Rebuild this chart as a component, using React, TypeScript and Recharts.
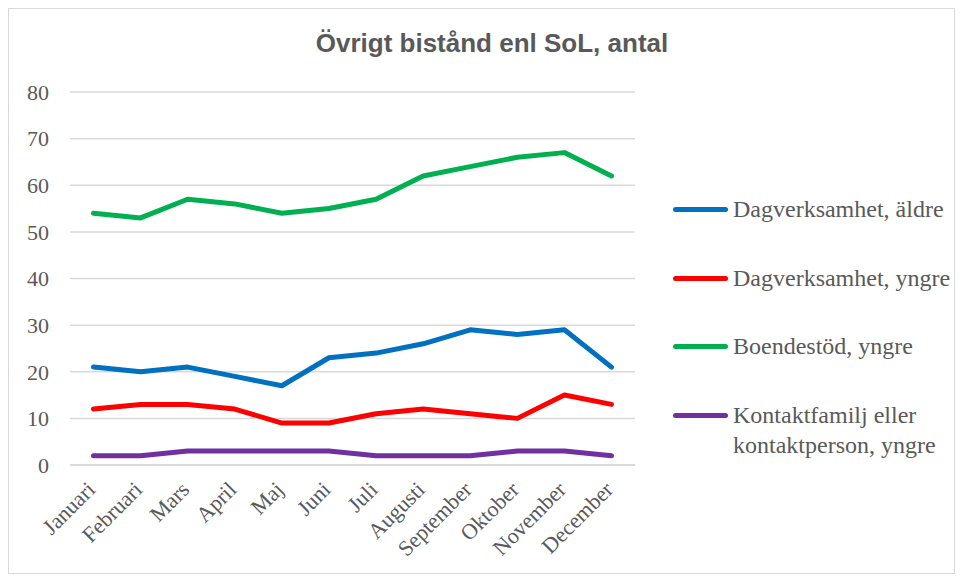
import React from "react";
import { CartesianGrid, Line, LineChart, XAxis, YAxis } from "recharts";

const MONTHS = [
  "Januari", "Februari", "Mars", "April", "Maj", "Juni",
  "Juli", "Augusti", "September", "Oktober", "November", "December",
];
const DAG_ALDRE = [21, 20, 21, 19, 17, 23, 24, 26, 29, 28, 29, 21];
const DAG_YNGRE = [12, 13, 13, 12, 9, 9, 11, 12, 11, 10, 15, 13];
const BOENDE_YNGRE = [54, 53, 57, 56, 54, 55, 57, 62, 64, 66, 67, 62];
const KONTAKT_YNGRE = [2, 2, 3, 3, 3, 3, 2, 2, 2, 3, 3, 2];
const Y_TICKS = [0, 10, 20, 30, 40, 50, 60, 70, 80];

const SERIES = [
  { key: "dagAldre", name: "Dagverksamhet, äldre", color: "#0070C0" },
  { key: "dagYngre", name: "Dagverksamhet, yngre", color: "#FF0000" },
  { key: "boende", name: "Boendestöd, yngre", color: "#00B050" },
  { key: "kontakt", name: "Kontaktfamilj eller\nkontaktperson, yngre", color: "#7030A0" },
];

const TEXT = "#595959";
const GRID = "#d9d9d9";
const SERIF = "'Liberation Serif', 'Times New Roman', serif";

const data = MONTHS.map((m, i) => ({
  month: m,
  dagAldre: DAG_ALDRE[i],
  dagYngre: DAG_YNGRE[i],
  boende: BOENDE_YNGRE[i],
  kontakt: KONTAKT_YNGRE[i],
}));

// rotated month labels, anchored at their end
const MonthTick = ({ x, y, payload }: any) => (
  <g transform={`translate(${x + 3},${y + 26})`}>
    <text transform="rotate(-45)" textAnchor="end" fill={TEXT} fontSize={22} fontFamily={SERIF}>
      {payload.value}
    </text>
  </g>
);

export default function App() {
  return (
    <div
      style={{
        position: "relative",
        width: 945,
        height: 564,
        border: `1px solid ${GRID}`,
        background: "#fff",
      }}
    >
      <div
        style={{
          position: "absolute",
          top: 19,
          left: 0,
          width: 966,
          textAlign: "center",
          fontFamily: "'Liberation Sans', Arial, sans-serif",
          fontWeight: "bold",
          fontSize: 26,
          color: TEXT,
        }}
      >
        Övrigt bistånd enl SoL, antal
      </div>

      {/* legend */}
      <div
        style={{
          position: "absolute",
          left: 664,
          top: 185,
          fontFamily: SERIF,
          fontSize: 24,
          color: TEXT,
          lineHeight: "30px",
        }}
      >
        {SERIES.map((s) => (
          <div key={s.key} style={{ display: "flex", alignItems: "flex-start", height: 68.5 }}>
            <div
              style={{
                width: 55,
                height: 5,
                borderRadius: 3,
                background: s.color,
                marginTop: 13,
                marginRight: 5,
                flexShrink: 0,
              }}
            />
            <div style={{ whiteSpace: "pre" }}>{s.name}</div>
          </div>
        ))}
      </div>

      <LineChart
        width={945}
        height={564}
        data={data}
        margin={{ top: 83, right: 319, left: 0, bottom: 0 }}
      >
        <CartesianGrid stroke={GRID} strokeWidth={1.5} vertical={false} />
        <XAxis
          dataKey="month"
          axisLine={{ stroke: GRID, strokeWidth: 1.5 }}
          tickLine={false}
          tickSize={0}
          tickMargin={0}
          interval={0}
          height={108}
          padding={{ left: 23.5, right: 23.5 }}
          tick={<MonthTick />}
        />
        <YAxis
          width={61}
          domain={[0, 80]}
          ticks={Y_TICKS}
          axisLine={false}
          tickLine={false}
          tickMargin={15}
          tick={{ fill: TEXT, fontSize: 22, fontFamily: SERIF }}
        />
        {SERIES.map((s) => (
          <Line
            key={s.key}
            dataKey={s.key}
            name={s.name}
            stroke={s.color}
            strokeWidth={5}
            strokeLinecap="round"
            strokeLinejoin="round"
            dot={false}
            activeDot={false}
            isAnimationActive={false}
          />
        ))}
      </LineChart>
    </div>
  );
}
